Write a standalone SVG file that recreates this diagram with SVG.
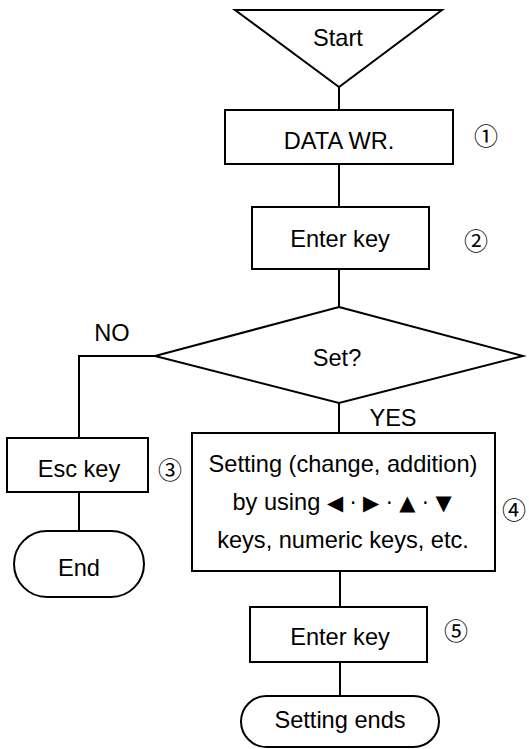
<svg xmlns="http://www.w3.org/2000/svg" width="529" height="749" viewBox="0 0 529 749">
<style>
.s{fill:#fff;stroke:#000;stroke-width:2}
.c{fill:none;stroke:#000;stroke-width:2}
text{font-family:"Liberation Sans","DejaVu Sans",Arial,sans-serif;font-size:23.6px;fill:#000;text-anchor:middle}
.n{font-family:"Noto Sans CJK JP","DejaVu Sans",sans-serif;font-size:24px}
.k{font-family:"DejaVu Sans",sans-serif;font-size:21px}
</style>
<rect width="529" height="749" fill="#fff"/>
<g id="connectors">
<line class="c" x1="339" y1="87" x2="339" y2="110"/>
<line class="c" x1="339" y1="164" x2="339" y2="207"/>
<line class="c" x1="339" y1="269" x2="339" y2="307"/>
<polyline class="c" points="155,356 79,356 79,438"/>
<line class="c" x1="339" y1="403" x2="339" y2="433"/>
<line class="c" x1="79" y1="492" x2="79" y2="531"/>
<line class="c" x1="340" y1="571" x2="340" y2="607"/>
<line class="c" x1="340" y1="662" x2="340" y2="696"/>
<text x="112" y="341">NO</text>
<text x="393" y="426">YES</text>
</g>
<g id="start">
<polygon class="s" points="235,10 442,10 339,87"/>
<text x="338" y="46">Start</text>
</g>
<g id="datawr">
<rect class="s" x="225" y="110" width="228" height="54"/>
<text x="339" y="149">DATA WR.</text>
<text class="n" x="486" y="145">①</text>
</g>
<g id="enter1">
<rect class="s" x="252" y="207" width="177" height="62"/>
<text x="340" y="247">Enter key</text>
<text class="n" x="476" y="250">②</text>
</g>
<g id="set">
<polygon class="s" points="339,307 523,356 339,403 155,356"/>
<text x="337" y="366">Set?</text>
</g>
<g id="esc">
<rect class="s" x="7" y="438" width="141" height="54"/>
<text x="79" y="477">Esc key</text>
<text class="n" x="170" y="479">③</text>
</g>
<g id="end">
<rect class="s" x="14" y="531" width="130" height="66" rx="33" ry="33"/>
<text x="79" y="576">End</text>
</g>
<g id="setting">
<rect class="s" x="192" y="433" width="303" height="138"/>
<text x="343" y="472">Setting (change, addition)</text>
<text x="342" y="510">by using <tspan class="k">◀ · ▶ · ▲ · ▼</tspan></text>
<text x="343" y="548">keys, numeric keys, etc.</text>
<text class="n" x="514" y="519">④</text>
</g>
<g id="enter2">
<rect class="s" x="250" y="607" width="177" height="55"/>
<text x="340" y="645">Enter key</text>
<text class="n" x="456" y="640">⑤</text>
</g>
<g id="settingends">
<rect class="s" x="241" y="696" width="198" height="51" rx="25.5" ry="25.5"/>
<text x="340" y="728">Setting ends</text>
</g>
</svg>
